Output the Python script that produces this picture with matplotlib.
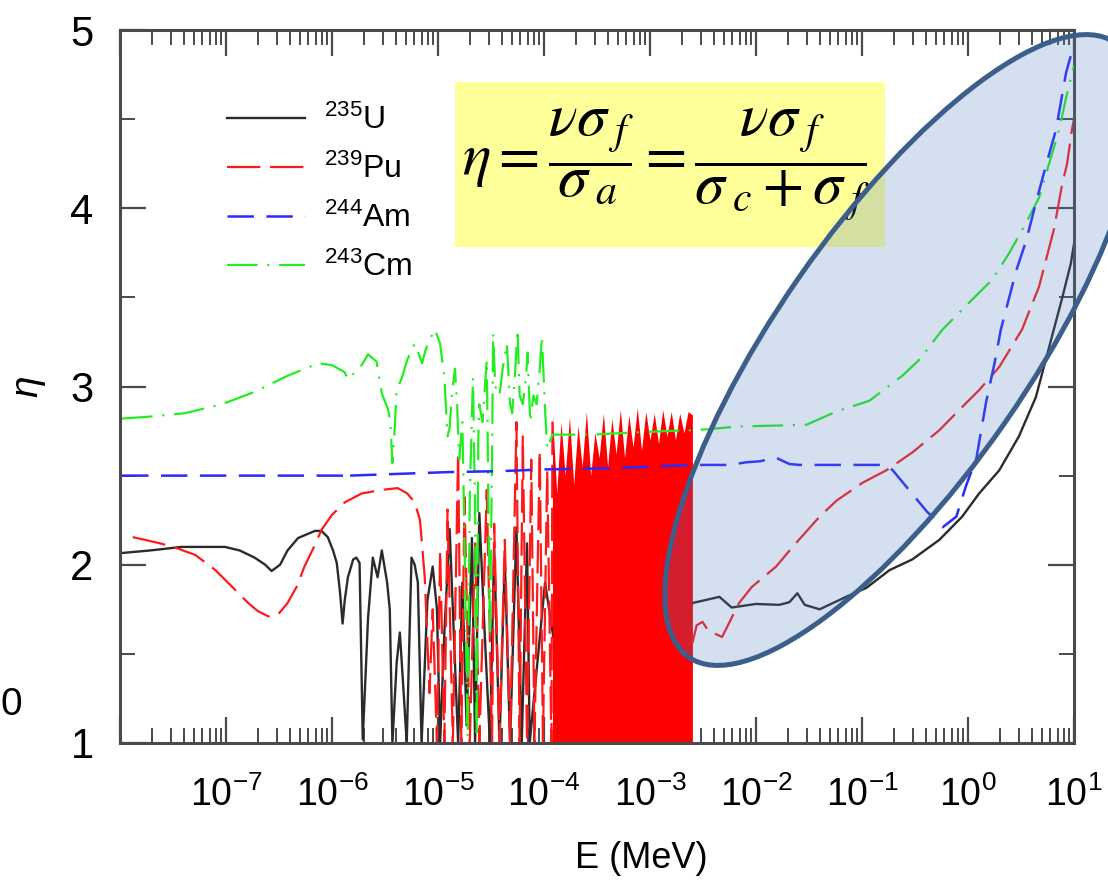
import numpy as np
import matplotlib
matplotlib.use('Agg')
import matplotlib.pyplot as plt
from matplotlib.patches import Ellipse, Rectangle

plt.rcParams['font.family'] = ['Liberation Sans', 'DejaVu Sans']
plt.rcParams['mathtext.fontset'] = 'custom'
plt.rcParams['mathtext.rm'] = 'Liberation Sans'
plt.rcParams['mathtext.it'] = 'Liberation Sans:italic'
plt.rcParams['mathtext.default'] = 'regular'
plt.rcParams['lines.scale_dashes'] = False

nan = np.nan
# ---------------- data (x given as log10(E / MeV)) ----------------
u235_logE = [-7.98, -7.72, -7.42, -7.01, -6.87, -6.73, -6.63, -6.57, -6.49, -6.42,
             -6.32, -6.16, -6.10, -6.04, -5.99, -5.955, -5.925, -5.90, -5.88, -5.85,
             -5.80, -5.77, -5.74, -5.71, -5.66, -5.615, -5.57, -5.53, -5.48,
             -5.455, -5.43, -5.39, -5.36, -5.33, -5.295, -5.25, -5.22, -5.19, -5.155,
             -5.10, -5.05, -5.01, -4.98, -4.94, -4.89, -4.86, -4.81, -4.77, -4.73,
             -4.68, -4.65, -4.61, -4.56, -4.51, -4.47, -4.42, -4.37, -4.32, -4.26,
             -4.21, -4.16, -4.135, -3.99, -3.76, -3.29, -2.91, -2.60, -2.345, -2.23,
             -2.00, -1.78, -1.685, -1.61, -1.54, -1.40, -1.15, -0.96, -0.74, -0.525,
             -0.27, -0.055, 0.105, 0.295, 0.48, 0.64, 0.765, 0.89, 0.97, 1.00]
u235_eta = [2.066, 2.08, 2.10, 2.10, 2.08, 2.04, 2.00, 1.965, 2.00, 2.08,
            2.15, 2.19, 2.19, 2.155, 2.08, 2.01, 1.85, 1.67, 1.80, 1.93,
            2.03, 2.04, 2.01, 1.02, 1.70, 2.04, 1.93, 2.08, 1.90,
            1.75, 1.00, 1.45, 1.62, 1.34, 1.00, 2.04, 2.00, 1.90, 1.00,
            1.80, 1.99, 1.75, 1.00, 1.62, 2.20, 1.75, 1.00, 1.90, 1.10,
            2.15, 1.00, 2.29, 1.62, 1.00, 2.10, 1.00, 2.03, 1.00, 2.21,
            1.00, 2.12, 1.00, 1.90, 1.00, 2.00, 1.20, 1.785, 1.82, 1.76,
            1.78, 1.775, 1.79, 1.84, 1.775, 1.75, 1.82, 1.87, 1.97, 2.03,
            2.14, 2.27, 2.40, 2.53, 2.72, 2.94, 3.22, 3.50, 3.69, 3.80]

pu239_logE = [-7.88, -7.62, -7.45, -7.29, -7.10, -6.94, -6.79, -6.70, -6.60, -6.51,
              -6.42, -6.33, -6.26, -6.17, -6.10, -6.00, -5.88, -5.72, -5.53, -5.38,
              -5.29, -5.22, -5.17, -5.125, -5.08, -5.05, -5.01, -4.98,
              -4.94, -4.91, -4.86, -4.81, -4.78, -4.75, -4.70, -4.65, -4.61, -4.54,
              -4.49, -4.47, -4.42, -4.37, -4.32, -4.26, -4.23, -4.20, -4.16, -4.12,
              -4.09, -4.04, -4.01, -3.97, -3.93, -3.92, nan, -2.60, -2.56, -2.505, -2.45,
              -2.32, -2.16, -2.04, -1.81, -1.655, -1.40, -1.24, -0.995, -0.77, -0.525,
              -0.27, -0.055, 0.105, 0.295, 0.51, 0.67, 0.81, 0.89, 0.935, 0.98, 1.00]
pu239_eta = [2.155, 2.12, 2.09, 2.055, 1.97, 1.875, 1.785, 1.74, 1.71, 1.72,
             1.785, 1.88, 1.99, 2.10, 2.195, 2.28, 2.35, 2.40, 2.42, 2.43,
             2.40, 2.35, 2.25, 1.93, 1.28, 1.75, 1.00, 2.08,
             1.00, 2.31, 1.00, 2.63, 1.00, 2.38, 1.00, 2.12, 1.00, 2.42,
             1.00, 2.23, 1.00, 2.14, 1.00, 2.80, 1.00, 2.72, 1.00, 2.59,
             1.00, 2.64, 1.00, 2.53, 1.00, 2.84, nan, 1.56, 1.66, 1.68, 1.63,
             1.595, 1.785, 1.875, 1.99, 2.10, 2.27, 2.36, 2.46, 2.53, 2.63,
             2.755, 2.885, 2.98, 3.11, 3.32, 3.56, 3.88, 4.14, 4.25, 4.44, 4.50]

# dense, unresolved 239Pu resonance band (upper envelope)
pu239_band_logE = [-3.92, -3.88, -3.84, -3.80, -3.76, -3.72, -3.68, -3.64, -3.60, -3.56,
                   -3.52, -3.48, -3.44, -3.40, -3.36, -3.32, -3.28, -3.24, -3.20, -3.16,
                   -3.12, -3.08, -3.04, -3.00, -2.96, -2.92, -2.88, -2.84, -2.80, -2.76,
                   -2.72, -2.68, -2.64, -2.60]
pu239_band_top = [2.84, 2.40, 2.80, 2.50, 2.83, 2.45, 2.78, 2.55, 2.86, 2.50,
                  2.74, 2.60, 2.85, 2.55, 2.82, 2.62, 2.87, 2.60, 2.84, 2.66,
                  2.88, 2.64, 2.86, 2.70, 2.85, 2.68, 2.87, 2.72, 2.86, 2.70,
                  2.85, 2.74, 2.86, 2.84]

am244_logE = [-7.98, -5.86, -5.85, -5.84, -4.89, -4.42, -3.99, -3.48, -3.00, -2.60,
              -2.25, -2.09, -1.97, -1.81, -1.685, -1.59, -0.77, -0.71, -0.39, -0.24,
              -0.11, -0.02, 0.08, 0.17, 0.25, 0.31, 0.455, 0.55, 0.64, 0.74,
              0.83, 0.925, 1.00]
am244_eta = [2.50, 2.50, 2.48, 2.50, 2.52, 2.525, 2.535, 2.54, 2.55, 2.56,
             2.56, 2.575, 2.58, 2.60, 2.565, 2.56, 2.56, 2.53, 2.30, 2.21,
             2.27, 2.44, 2.60, 2.91, 3.13, 3.32, 3.65, 3.82, 4.03, 4.25,
             4.44, 4.76, 4.92]

cm243_logE = [-7.98, -7.74, -7.39, -7.04, -6.73, -6.42, -6.13, -6.00, -5.88, -5.85,
              -5.72, -5.66, -5.62, -5.58, -5.53, -5.47, -5.45, -5.43, -5.41, -5.39,
              -5.34, -5.29, -5.22, -5.18, -5.15, -5.12, -5.08, -5.03, -4.98, -4.94,
              -4.91, -4.89, -4.87, -4.84, -4.82, -4.80, -4.77, -4.75, -4.73, -4.72,
              -4.70, -4.67, -4.65, -4.635, -4.62, -4.61, -4.58, -4.54, -4.51, -4.49,
              -4.48, -4.46, -4.42, -4.39, -4.35, -4.32, -4.30, -4.27, -4.25, -4.23,
              -4.20, -4.17, -4.155, -4.13, -4.10, -4.07, -4.04, -4.02, -3.99, -3.97,
              -3.92, -3.54, -3.22, -2.845, -2.60, -2.46, -2.185, -1.87, -1.525, -1.24,
              -0.93, -0.62, -0.46, -0.24, 0.01, 0.23, 0.39, 0.55, 0.67, 0.765,
              0.86, 0.925, 1.00]
cm243_eta = [2.82, 2.83, 2.85, 2.90, 2.97, 3.06, 3.13, 3.12, 3.08, 3.04,
             3.12, 3.18, 3.16, 3.14, 2.96, 2.87, 2.80, 2.57, 2.75, 2.98,
             3.05, 3.15, 3.24, 3.18, 3.13, 3.20, 3.26, 3.32, 3.24, 3.05,
             2.72, 2.77, 2.95, 3.10, 2.90, 2.59, 2.80, 2.12, 1.40, 1.03,
             2.40, 3.05, 2.30, 1.03, 2.70, 2.90, 2.80, 3.15, 1.60, 2.60,
             3.30, 3.00, 2.95, 3.10, 3.24, 2.90, 2.85, 3.10, 3.32, 2.95,
             2.90, 3.05, 3.19, 2.80, 2.95, 2.90, 3.10, 3.28, 2.87, 2.65,
             2.73, 2.73, 2.74, 2.75, 2.755, 2.76, 2.775, 2.78, 2.785, 2.86,
             2.92, 3.06, 3.15, 3.32, 3.47, 3.60, 3.75, 3.92, 4.06, 4.25,
             4.44, 4.62, 4.80]

legend_labels = [r'${}^{235}$U', r'${}^{239}$Pu', r'${}^{244}$Am', r'${}^{243}$Cm']
xtick_exps = [-8, -7, -6, -5, -4, -3, -2, -1, 0, 1]
xtick_labels = ['', r'$10^{-7}$', r'$10^{-6}$', r'$10^{-5}$', r'$10^{-4}$', r'$10^{-3}$',
                r'$10^{-2}$', r'$10^{-1}$', r'$10^{0}$', r'$10^{1}$']
ytick_values = [1, 2, 3, 4, 5]

# ---------------- figure ----------------
W, H = 1108, 884
fig = plt.figure(figsize=(W / 100, H / 100), dpi=100)
ax = fig.add_axes([120 / W, 1 - 743 / H, (1074 - 120) / W, (743 - 30) / H])

E = lambda v: 10.0 ** np.asarray(v, dtype=float)

ax.fill_between(E(pu239_band_logE), 1.0, pu239_band_top, color='#ff0000', lw=0, zorder=2.4)
ax.plot(E(u235_logE), u235_eta, color='#2b2b2b', lw=1.7, zorder=2.2, label=legend_labels[0])
ax.plot(E(pu239_logE), pu239_eta, color='#ff1a1a', lw=1.6, dashes=[24, 7], zorder=2.5,
        label=legend_labels[1])
ax.plot(E(am244_logE), am244_eta, color='#2a2aff', lw=1.8, dashes=[19, 9], zorder=3.5,
        label=legend_labels[2])
ax.plot(E(cm243_logE), cm243_eta, color='#22ee22', lw=1.6, dashes=[22, 7, 1.5, 7], zorder=3,
        label=legend_labels[3])

ax.set_xscale('log')
ax.set_xlim(1e-8, 1e1)
ax.set_ylim(1, 5)
ax.set_xticks(10.0 ** np.array(xtick_exps, dtype=float))
ax.set_xticklabels(xtick_labels)
ax.set_yticks(ytick_values)
ax.set_yticks(np.arange(1.5, 5, 1.0), minor=True)
ax.xaxis.set_minor_locator(matplotlib.ticker.LogLocator(base=10, subs=np.arange(2, 10), numticks=20))
ax.xaxis.set_minor_formatter(matplotlib.ticker.NullFormatter())

tc = '#4a4a4a'
ax.tick_params(which='both', direction='in', top=True, right=True, colors=tc, labelcolor='black')
ax.tick_params(which='major', length=19, width=1.6)
ax.tick_params(which='minor', length=11, width=1.4)
ax.tick_params(axis='x', labelsize=27, pad=24)
ax.tick_params(axis='y', labelsize=30, pad=19)
for s in ax.spines.values():
    s.set_color(tc)
    s.set_linewidth(2.2)

ax.set_xlabel('E (MeV)', fontsize=26)
ax.xaxis.set_label_coords((641 - 120) / (1074 - 120), -(858 - 743) / (743 - 30))
ax.xaxis.label.set_va('center')
ax.set_ylabel('η', fontsize=28, style='italic', labelpad=18, rotation=90)

leg = ax.legend(loc='upper left', bbox_to_anchor=(227 / W, 1 - 105 / H),
                bbox_transform=fig.transFigure, frameon=False, fontsize=23,
                handlelength=2.45, handletextpad=0.6, labelspacing=0.55, borderpad=0,
                borderaxespad=0)

# yellow formula box and highlight ellipse (figure-level annotations, in inches)
fig.add_artist(Rectangle((455 / 100, (H - 247) / 100), 430 / 100, 165 / 100,
                         transform=fig.dpi_scale_trans, facecolor='#ffff99',
                         edgecolor='none', zorder=5))
fig.text(666 / W, 1 - 165 / H,
         r'$\mathit{\eta} = \dfrac{\mathit{\nu\sigma}_{\;\mathit{f}}}{\mathit{\sigma}_{\;\mathit{a}}}'
         r' = \dfrac{\mathit{\nu\sigma}_{\;\mathit{f}}}{\mathit{\sigma}_{\;\mathit{c}}+\mathit{\sigma}_{\;\mathit{f}}}$',
         family='STIXGeneral', math_fontfamily='stix', fontsize=43, ha='center', va='center', zorder=6)
fig.add_artist(Ellipse((902 / 100, (H - 350) / 100), 748 / 100, 252 / 100, angle=55.2,
                       transform=fig.dpi_scale_trans, facecolor=(0.31, 0.506, 0.741, 0.24),
                       edgecolor='#3b5e8a', lw=3.6, zorder=10))

fig.text(0, 1 - 705 / H, '0', fontsize=28, ha='left', va='center')

fig.savefig('out.png', dpi=100)
